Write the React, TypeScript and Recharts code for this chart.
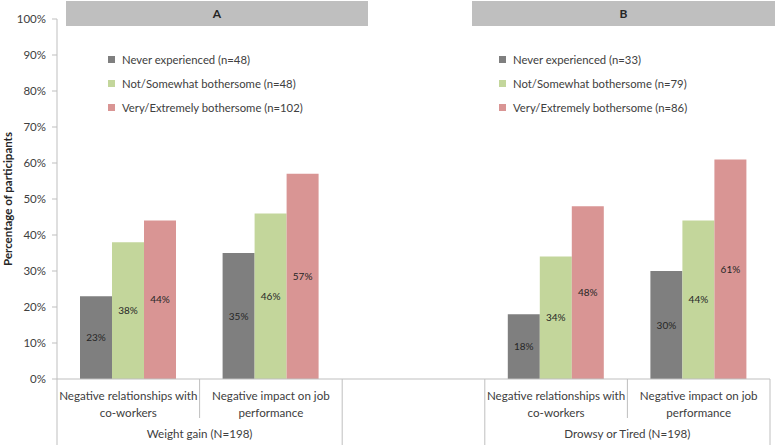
import { BarChart, Bar, XAxis, YAxis, LabelList, Label } from 'recharts'

// categories: 2 per panel, with an empty spacer between panels
const categories = [
  ['Negative relationships with', 'co-workers'],
  ['Negative impact on job', 'performance'],
  [],
  ['Negative relationships with', 'co-workers'],
  ['Negative impact on job', 'performance'],
]
const neverExperienced = [23, 35, null, 18, 30]
const notBothersome = [38, 46, null, 34, 44]
const veryBothersome = [44, 57, null, 48, 61]
const yTicks = [0, 10, 20, 30, 40, 50, 60, 70, 80, 90, 100]

const groups = [
  { label: 'Weight gain (N=198)', first: 0 },
  { label: 'Drowsy or Tired (N=198)', first: 3 },
]
const legendA = ['Never experienced (n=48)', 'Not/Somewhat bothersome (n=48)', 'Very/Extremely bothersome (n=102)']
const legendB = ['Never experienced (n=33)', 'Not/Somewhat bothersome (n=79)', 'Very/Extremely bothersome (n=86)']

const W = 778
const H = 445
const X_H = 66
const M = { top: 19, right: 8, bottom: 0, left: 0 }
const Y_W = 57
const PLOT_BOTTOM = H - X_H
const BAND = (W - M.left - M.right - Y_W) / categories.length
const FONT = 'Lato, "Open Sans", sans-serif'
const COLORS = ['#7f7f7f', '#c3d69b', '#d99594']
const LINE = '#bfbfbf'
const TEXT = '#404040'

const data = categories.map((c, i) => ({
  name: c.join(' '),
  never: neverExperienced[i],
  some: notBothersome[i],
  very: veryBothersome[i],
}))

// outer boundaries run to the bottom, inner ones stop under the category text
const outerLeft = [true, false, true, true, false]

function CatTick(props: any) {
  const { x, index } = props
  const lines = categories[index] || []
  const left = x - BAND / 2
  const right = x + BAND / 2
  const group = groups.find((g) => g.first === index)
  return (
    <g>
      <line x1={left} x2={left} y1={PLOT_BOTTOM} y2={outerLeft[index] ? H : PLOT_BOTTOM + 39} stroke={LINE} />
      {index === categories.length - 1 && <line x1={right} x2={right} y1={PLOT_BOTTOM} y2={H} stroke={LINE} />}
      {lines.map((l, i) => (
        <text key={i} x={x} y={PLOT_BOTTOM + 21 + i * 17} textAnchor="middle" fontSize={11.6} fill={TEXT} fontFamily={FONT}>
          {l}
        </text>
      ))}
      {group && (
        <text x={right} y={PLOT_BOTTOM + 59} textAnchor="middle" fontSize={11.6} fill={TEXT} fontFamily={FONT}>
          {group.label}
        </text>
      )}
    </g>
  )
}

function Legend({ items, left }: { items: string[]; left: number }) {
  return (
    <>
      {items.map((t, i) => (
        <div key={t} style={{ position: 'absolute', left, top: 51 + i * 24, height: 16, display: 'flex', alignItems: 'center', fontSize: 11.3, color: TEXT, fontFamily: FONT, whiteSpace: 'nowrap' }}>
          <span style={{ display: 'inline-block', width: 7, height: 7, background: COLORS[i], marginRight: 7 }} />
          {t}
        </div>
      ))}
    </>
  )
}

function Header({ title, left, width }: { title: string; left: number; width: number }) {
  return (
    <div style={{ position: 'absolute', left, top: 1, width, height: 25, background: '#bfbfbf', display: 'flex', alignItems: 'center', justifyContent: 'center', fontSize: 12, fontWeight: 'bold', fontFamily: FONT, color: '#262626' }}>
      {title}
    </div>
  )
}

export default function App() {
  const fmt = (v: any) => (v == null ? '' : `${v}%`)
  return (
    <div style={{ position: 'absolute', left: 0, top: 0, width: W, height: H, background: '#fff' }}>
      <BarChart width={W} height={H} data={data} margin={M} barGap={0} barSize={32}>
        <YAxis
          domain={[0, 100]}
          ticks={yTicks}
          width={Y_W}
          tickFormatter={(v) => `${v}%`}
          tick={{ fontSize: 11.5, fill: TEXT, fontFamily: FONT }}
          tickSize={5}
          tickMargin={6}
          stroke={LINE}
          interval={0}
        >
          <Label value="Percentage of participants" angle={-90} position="insideLeft" offset={8}
            style={{ textAnchor: 'middle', fontSize: 11.5, fontWeight: 'bold', fill: '#262626', fontFamily: FONT }} />
        </YAxis>
        <XAxis dataKey="name" tick={<CatTick />} tickLine={false} stroke={LINE} interval={0} height={X_H} />
        <Bar dataKey="never" fill={COLORS[0]} isAnimationActive={false}>
          <LabelList dataKey="never" position="center" formatter={fmt} fontSize={10} fill="#262626" fontFamily={FONT} />
        </Bar>
        <Bar dataKey="some" fill={COLORS[1]} isAnimationActive={false}>
          <LabelList dataKey="some" position="center" formatter={fmt} fontSize={10} fill="#262626" fontFamily={FONT} />
        </Bar>
        <Bar dataKey="very" fill={COLORS[2]} isAnimationActive={false}>
          <LabelList dataKey="very" position="center" formatter={fmt} fontSize={10} fill="#262626" fontFamily={FONT} />
        </Bar>
      </BarChart>
      <Header title="A" left={66} width={302} />
      <Header title="B" left={472} width={303} />
      <Legend items={legendA} left={108} />
      <Legend items={legendB} left={499} />
    </div>
  )
}
